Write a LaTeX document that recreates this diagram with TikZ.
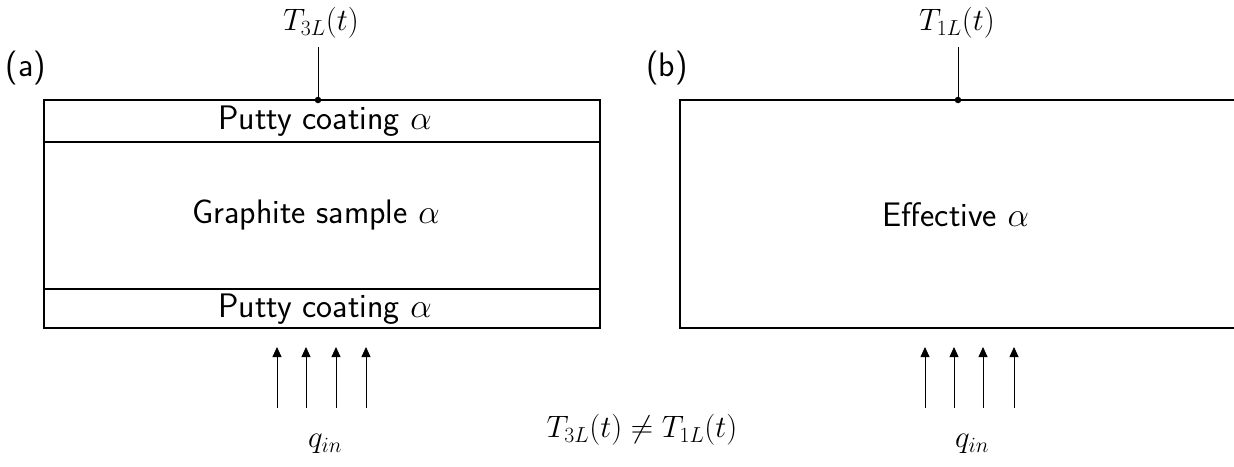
\RequirePackage{fix-cm}
\documentclass[tikz,border=0pt]{standalone}
\usepackage{fontspec}
\usetikzlibrary{arrows.meta}
\begin{document}
\begin{tikzpicture}[x=1pt,y=-1pt,
  layer/.style={draw, line width=1.3pt, minimum width=556pt, inner sep=0pt},
  lbl/.style={font=\fontsize{34}{39}\selectfont\sffamily, inner sep=0pt},
  mlbl/.style={font=\fontsize{31}{36}\selectfont, inner sep=0pt},
  flux/.style={-{Triangle[length=10pt,width=9pt]}, line width=0.8pt},
  probe/.style={line width=0.8pt},
  dot/.style={circle, fill, inner sep=0pt, minimum size=6.5pt}]
\useasboundingbox (0,0) rectangle (1234,466);

% (a) layered sample
\node[layer, minimum height=42pt] (topa) at (322,121) {};
\node[layer, minimum height=147pt] (mida) at (322,215.5) {};
\node[layer, minimum height=39pt] (bota) at (322,308.5) {};
\node[lbl] (topt) at (325,121) {Putty coating $\alpha$};
\node[lbl] (midt) at (316,215) {Graphite sample $\alpha$};
\node[lbl] (bott) at (325,309) {Putty coating $\alpha$};

% (b) effective sample
\node[lbl] (eff) at (956,215) {Effective $\alpha$};
\draw[line width=1.3pt] (1240,100) -- (680,100) -- (680,328) -- (1240,328);

% panel labels
\node[lbl] (la) at (26,68) {(a)};
\node[lbl] (lb) at (667,68) {(b)};

% probes
\node[dot] (pa) at (318,100) {};
\node[mlbl] (T3) at (321,23) {$T_{3L}(t)$};
\draw[probe] (pa.center) -- ++(0,-53);
\node[dot] (pb) at (958,100) {};
\node[mlbl] (T1) at (957,23) {$T_{1L}(t)$};
\draw[probe] (pb.center) -- ++(0,-53);

% heat flux arrows
\foreach \i/\x in {1/277,2/306,3/336,4/366}{
  \coordinate (as\i) at (\x,408);
  \coordinate (ae\i) at (\x,347);
  \draw[flux] (as\i) -- (ae\i);
}
\foreach \i/\x in {1/925,2/954,3/983,4/1014}{
  \coordinate (bs\i) at (\x,408);
  \coordinate (be\i) at (\x,347);
  \draw[flux] (bs\i) -- (be\i);
}
\node[mlbl] (qa) at (325,444) {$q_{in}$};
\node[mlbl] (qb) at (972,444) {$q_{in}$};
\node[mlbl] (neq) at (642,430) {$T_{3L}(t) \neq T_{1L}(t)$};
\end{tikzpicture}
\end{document}
